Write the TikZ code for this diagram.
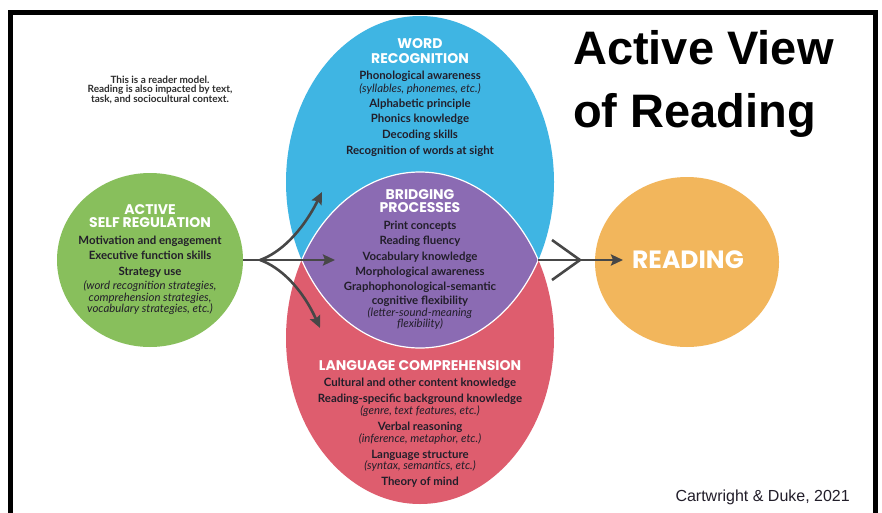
\documentclass[tikz,border=0pt]{standalone}
\usepackage{fontspec}
\setmainfont{Lato}
\newfontfamily\headfont{Poppins}
\newfontfamily\titlefont{Liberation Sans}
\usetikzlibrary{shapes.geometric,arrows.meta}
\definecolor{wrblue}{HTML}{3FB5E3}
\definecolor{bppurple}{HTML}{8B6BB3}
\definecolor{lcred}{HTML}{DE5D6E}
\definecolor{asgreen}{HTML}{88BF5C}
\definecolor{rdorange}{HTML}{F2B65C}
\definecolor{ink}{HTML}{221E2A}
\definecolor{notegray}{HTML}{2E2E2E}
\definecolor{arrowgray}{HTML}{474747}
\begin{document}
\begin{tikzpicture}[x=1pt,y=-1pt,
  blob/.style={ellipse, inner sep=0pt, draw=none},
  head/.style={font=\headfont\bfseries\fontsize{14}{15}\selectfont, text=white, inner sep=0pt},
  bodyline/.style={font=\fontsize{11.4}{13}\selectfont, text=ink, anchor=mid, inner sep=0pt},
  notetext/.style={font=\bfseries\fontsize{10}{9.2}\selectfont, text=notegray, align=center, inner sep=0pt},
  conn/.style={draw=arrowgray, line width=2.6pt},
  tip/.style={-{Stealth[length=12pt,width=11pt,inset=2pt]}},
]
\useasboundingbox (0,0) rectangle (882,513);
\fill[white] (0,0) rectangle (882,513);

% frame
\draw[black, line width=5pt] (10.5,516) -- (10.5,12.5) -- (875.5,12.5) -- (875.5,516);

% circles
\node[blob, fill=wrblue, minimum width=268pt, minimum height=332pt] (wr) at (420,182) {};
\node[blob, fill=lcred, minimum width=268pt, minimum height=332pt] (lc) at (420,338) {};
\begin{scope}
  \clip (420,182) ellipse [x radius=134, y radius=166];
  \fill[bppurple] (420,338) ellipse [x radius=134, y radius=166];
  \draw[white, line width=1.2pt] (420,338) ellipse [x radius=134, y radius=166];
\end{scope}
\begin{scope}
  \clip (420,338) ellipse [x radius=134, y radius=166];
  \draw[white, line width=1.2pt] (420,182) ellipse [x radius=134, y radius=166];
\end{scope}
\node[blob, fill=asgreen, minimum width=186pt, minimum height=174pt] (as) at (150,260) {};
\node[blob, fill=rdorange, minimum width=184pt, minimum height=170pt] (rd) at (687,262) {};

% arrows left
\coordinate (jn) at (260,260);
\coordinate (tu) at (322,192);
\coordinate (tm) at (335,260);
\coordinate (tl) at (320,328);
\draw[conn] (as.east) -- (jn);
\draw[conn,tip] (jn) .. controls (280,253) and (302,232) .. (tu);
\draw[conn,tip] (jn) -- (tm);
\draw[conn,tip] (jn) .. controls (280,267) and (302,288) .. (tl);

% arrows right
\coordinate (lensR) at (538.3,260);
\coordinate (cu) at (552,240);
\coordinate (cl) at (552,280);
\coordinate (cm) at (580,260);
\coordinate (rt) at (623,260);
\draw[conn] (cu) -- (cm) -- (cl);
\draw[conn,tip] (lensR) -- (rt);

% note
\node[notetext] (note) at (160,90) {This is a reader model.\\Reading is also impacted by text,\\task, and sociocultural context.};

% word recognition
\node[head] (wrh1) at (420,44) {WORD};
\node[head] (wrh2) at (420,59) {RECOGNITION};
\foreach \yy/\txt [count=\i] in {77/{\textbf{Phonological awareness}},89.5/{\textit{(syllables, phonemes, etc.)}},105/{\textbf{Alphabetic principle}},119.5/{\textbf{Phonics knowledge}},135.5/{\textbf{Decoding skills}},151.5/{\textbf{Recognition of words at sight}}}
  \node[bodyline] (wrt\i) at (420,\yy) {\txt};

% bridging
\node[head] (bph1) at (420,194.5) {BRIDGING};
\node[head] (bph2) at (420,208) {PROCESSES};
\foreach \yy/\txt [count=\i] in {226.5/{\textbf{Print concepts}},241.5/{\textbf{Reading fluency}},257.5/{\textbf{Vocabulary knowledge}},273/{\textbf{Morphological awareness}},288/{\textbf{Graphophonological-semantic}},302/{\textbf{cognitive flexibility}},313.5/{\textit{(letter-sound-meaning}},325/{\textit{flexibility)}}}
  \node[bodyline] (bpt\i) at (420,\yy) {\txt};

% language comprehension
\node[head] (lch) at (420,366) {LANGUAGE COMPREHENSION};
\foreach \yy/\txt [count=\i] in {384/{\textbf{Cultural and other content knowledge}},399.5/{\textbf{Reading-specific background knowledge}},412/{\textit{(genre, text features, etc.)}},428/{\textbf{Verbal reasoning}},440/{\textit{(inference, metaphor, etc.)}},455.5/{\textbf{Language structure}},467/{\textit{(syntax, semantics, etc.)}},482.5/{\textbf{Theory of mind}}}
  \node[bodyline] (lct\i) at (420,\yy) {\txt};

% active self regulation
\node[head] (ash1) at (150,210) {ACTIVE};
\node[head] (ash2) at (150,223) {SELF REGULATION};
\foreach \yy/\txt [count=\i] in {242/{\textbf{Motivation and engagement}},257/{\textbf{Executive function skills}},273/{\textbf{Strategy use}},287/{\textit{(word recognition strategies,}},298.5/{\textit{comprehension strategies,}},310/{\textit{vocabulary strategies, etc.)}}}
  \node[bodyline] (ast\i) at (150,\yy) {\txt};

% reading
\node[font=\headfont\bfseries\fontsize{25}{27}\selectfont, text=white, inner sep=0pt] (rdt) at (688,260) {READING};

% title and credit
\node[font=\titlefont\bfseries\fontsize{47}{52}\selectfont, anchor=base west, inner sep=0pt] (t1) at (573,65) {Active View};
\node[font=\titlefont\bfseries\fontsize{47}{52}\selectfont, anchor=base west, inner sep=0pt] (t2) at (573,128) {of Reading};
\node[font=\titlefont\fontsize{16}{19}\selectfont, text=ink, anchor=base east, inner sep=0pt] (credit) at (850,501) {Cartwright \& Duke, 2021};
\end{tikzpicture}
\end{document}
